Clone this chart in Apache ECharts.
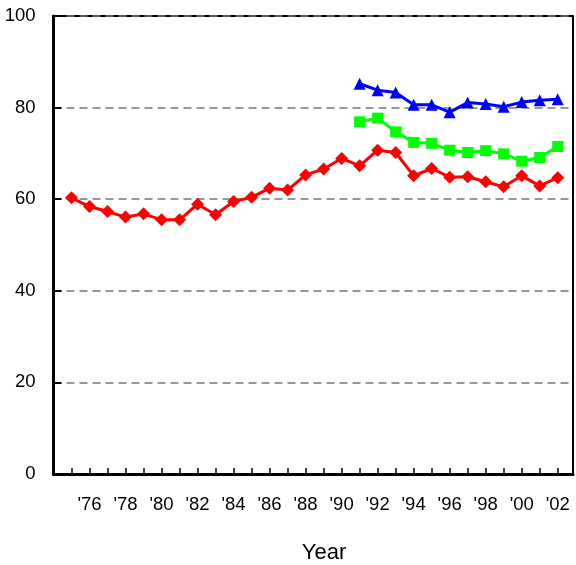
<!DOCTYPE html>
<html>
<head>
<meta charset="utf-8">
<script src="https://cdn.jsdelivr.net/npm/echarts@6/dist/echarts.min.js"></script>
<style>html,body{margin:0;padding:0;background:#fff}#c{width:576px;height:565px}</style>
</head>
<body>
<div id="c"></div>
<script>
var years = [1975,1976,1977,1978,1979,1980,1981,1982,1983,1984,1985,1986,1987,1988,1989,1990,1991,1992,1993,1994,1995,1996,1997,1998,1999,2000,2001,2002];
var redValues = [60.3,58.4,57.3,56.1,56.8,55.5,55.5,58.9,56.6,59.5,60.4,62.4,62.0,65.3,66.6,68.9,67.3,70.7,70.2,65.1,66.7,64.8,64.9,63.8,62.7,65.1,62.9,64.7];
var laterYears = [1991,1992,1993,1994,1995,1996,1997,1998,1999,2000,2001,2002];
var greenValues = [76.9,77.7,74.7,72.4,72.2,70.7,70.2,70.6,69.9,68.3,69.1,71.5];
var blueValues = [85.2,83.8,83.3,80.6,80.6,79.0,81.1,80.8,80.2,81.2,81.6,81.8];
var xTickYears = [1976,1978,1980,1982,1984,1986,1988,1990,1992,1994,1996,1998,2000,2002];
var xTickLabels = ["'76","'78","'80","'82","'84","'86","'88","'90","'92","'94","'96","'98","'00","'02"];
var yTicks = [0,20,40,60,80,100];

function pairs(xs, ys){ return xs.map(function(x,i){ return [x, ys[i]]; }); }

var font = 'Liberation Sans, Arial, sans-serif';
var chart = echarts.init(document.getElementById('c'), null, {renderer:'canvas'});
chart.setOption({
  animation: false,
  backgroundColor: '#fff',
  grid: {left: 53.5, right: 3, top: 16, bottom: 91, show: true, borderColor: '#000', borderWidth: 2, backgroundColor: 'transparent'},
  xAxis: {
    type: 'value', min: 1974, max: 2002.85, interval: 1,
    axisLine: {show: true, lineStyle: {color: '#000', width: 3}},
    axisTick: {show: true, inside: true, length: 6, lineStyle: {color: '#000', width: 1.5}},
    splitLine: {show: false},
    axisLabel: {
      margin: 21, color: '#000', fontSize: 18.5, fontFamily: font,
      showMinLabel: false, showMaxLabel: false,
      formatter: function(v){ var i = xTickYears.indexOf(Math.round(v)); return (i >= 0 && Math.abs(v - Math.round(v)) < 1e-6) ? xTickLabels[i] : ''; }
    }
  },
  yAxis: {
    type: 'value', min: yTicks[0], max: yTicks[yTicks.length-1], interval: 20,
    axisLine: {show: true, lineStyle: {color: '#000', width: 3}},
    axisTick: {show: true, inside: true, length: 8, lineStyle: {color: '#000', width: 2}},
    splitLine: {show: true, lineStyle: {color: '#777', width: 1.5, type: [8,5]}},
    axisLabel: {margin: 18, color: '#000', fontSize: 18.5, fontFamily: font}
  },
  graphic: [{
    type: 'text', x: 324, y: 553,
    style: {text: 'Year', fontSize: 22, fontFamily: font, fill: '#000', align: 'center', verticalAlign: 'middle'}
  }],
  series: [
    {type: 'line', data: pairs(years, redValues), symbol: 'diamond', symbolSize: 13,
     itemStyle: {color: '#ff0000'}, lineStyle: {color: '#ff0000', width: 3}, z: 3},
    {type: 'line', data: pairs(laterYears, greenValues), symbol: 'rect', symbolSize: 11,
     itemStyle: {color: '#00ff00'}, lineStyle: {color: '#00ff00', width: 3}, z: 4},
    {type: 'line', data: pairs(laterYears, blueValues), symbol: 'triangle', symbolSize: 12,
     itemStyle: {color: '#0000ff'}, lineStyle: {color: '#0000ff', width: 3}, z: 5}
  ]
});
</script>
</body>
</html>
